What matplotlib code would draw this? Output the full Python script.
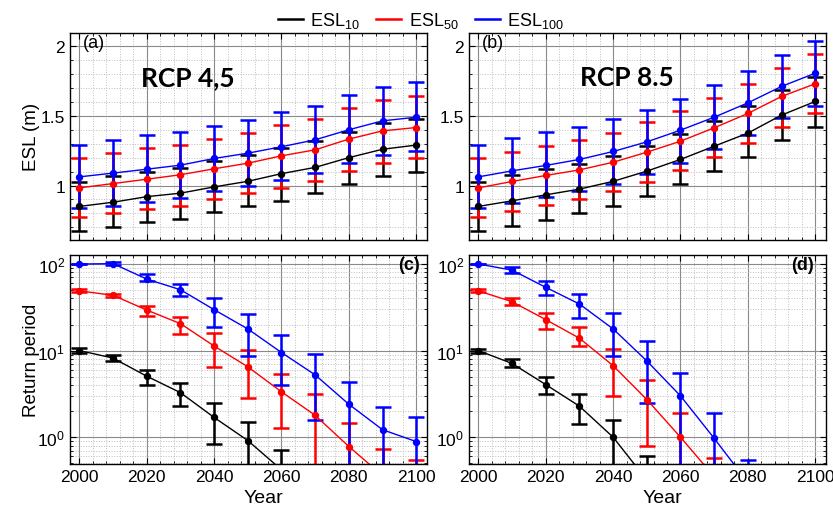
import numpy as np
import matplotlib
matplotlib.use("Agg")
import matplotlib.pyplot as plt
from matplotlib.ticker import MultipleLocator, LogLocator, NullFormatter, FixedLocator

plt.rcParams['font.family'] = ['Liberation Sans', 'DejaVu Sans']
plt.rcParams['mathtext.fontset'] = 'custom'
plt.rcParams['mathtext.rm'] = 'Liberation Sans'
plt.rcParams['mathtext.it'] = 'Liberation Sans'

years = [2000, 2010, 2020, 2030, 2040, 2050, 2060, 2070, 2080, 2090, 2100]

# ESL (m), RCP 4.5: central value, lower and upper bound
esl45_10 = [0.85, 0.88, 0.92, 0.945, 0.99, 1.03, 1.085, 1.13, 1.20, 1.26, 1.29]
esl45_10_lo = [0.677, 0.70, 0.735, 0.76, 0.81, 0.856, 0.89, 0.945, 1.012, 1.07, 1.096]
esl45_10_hi = [1.024, 1.065, 1.096, 1.124, 1.175, 1.218, 1.27, 1.318, 1.385, 1.45, 1.48]
esl45_50 = [0.983, 1.014, 1.045, 1.077, 1.12, 1.16, 1.213, 1.256, 1.333, 1.392, 1.416]
esl45_50_lo = [0.777, 0.80, 0.833, 0.856, 0.90, 0.947, 0.983, 1.033, 1.103, 1.165, 1.196]
esl45_50_hi = [1.20, 1.232, 1.266, 1.29, 1.335, 1.376, 1.433, 1.476, 1.555, 1.617, 1.644]
esl45_100 = [1.062, 1.089, 1.117, 1.146, 1.194, 1.232, 1.278, 1.328, 1.40, 1.464, 1.49]
esl45_100_lo = [0.837, 0.854, 0.883, 0.909, 0.957, 1.0, 1.04, 1.089, 1.158, 1.222, 1.25]
esl45_100_hi = [1.292, 1.328, 1.359, 1.385, 1.428, 1.471, 1.526, 1.572, 1.648, 1.708, 1.742]

# ESL (m), RCP 8.5
esl85_10 = [0.85, 0.89, 0.933, 0.974, 1.03, 1.103, 1.187, 1.282, 1.376, 1.505, 1.603]
esl85_10_lo = [0.677, 0.713, 0.754, 0.80, 0.856, 0.928, 1.012, 1.103, 1.208, 1.33, 1.419]
esl85_10_hi = [1.024, 1.072, 1.117, 1.156, 1.21, 1.287, 1.366, 1.464, 1.569, 1.687, 1.782]
esl85_50 = [0.983, 1.029, 1.072, 1.112, 1.167, 1.239, 1.318, 1.414, 1.517, 1.639, 1.73]
esl85_50_lo = [0.777, 0.816, 0.859, 0.90, 0.957, 1.024, 1.108, 1.203, 1.304, 1.423, 1.519]
esl85_50_hi = [1.20, 1.242, 1.287, 1.325, 1.38, 1.455, 1.533, 1.627, 1.73, 1.845, 1.945]
esl85_100 = [1.062, 1.105, 1.144, 1.187, 1.244, 1.313, 1.397, 1.49, 1.593, 1.711, 1.806]
esl85_100_lo = [0.837, 0.878, 0.916, 0.957, 1.012, 1.084, 1.165, 1.261, 1.361, 1.481, 1.574]
esl85_100_hi = [1.292, 1.342, 1.385, 1.421, 1.474, 1.545, 1.624, 1.718, 1.821, 1.94, 2.036]

# Return period (years), RCP 4.5
rp45_10 = [10.0, 8.2, 5.06, 3.27, 1.69, 0.915, 0.42, 0.19, 0.09, 0.04, 0.02]
rp45_10_lo = [9.4, 7.6, 4.0, 2.32, 0.84, 0.05, 0.01, 0.01, 0.01, 0.01, 0.01]
rp45_10_hi = [10.6, 8.8, 6.04, 4.24, 2.51, 1.49, 0.72, 0.3, 0.15, 0.07, 0.03]
rp45_50 = [49.0, 43.5, 29.4, 20.5, 11.3, 6.5, 3.34, 1.79, 0.78, 0.36, 0.17]
rp45_50_lo = [47.0, 41.5, 25.0, 15.6, 6.5, 2.84, 1.26, 0.01, 0.01, 0.01, 0.01]
rp45_50_hi = [52.0, 44.6, 33.0, 24.5, 15.8, 10.2, 5.43, 3.13, 1.45, 0.74, 0.55]
rp45_100 = [100.0, 101.0, 67.0, 50.5, 29.7, 17.8, 9.5, 5.24, 2.4, 1.22, 0.89]
rp45_100_lo = [99.0, 97.0, 63.0, 42.4, 18.9, 8.6, 4.05, 1.56, 0.01, 0.01, 0.01]
rp45_100_hi = [101.0, 106.0, 77.6, 59.0, 40.0, 26.5, 15.0, 9.07, 4.3, 2.24, 1.7]

# Return period (years), RCP 8.5
rp85_10 = [10.0, 7.1, 4.05, 2.28, 1.0, 0.32, 0.1, 0.04, 0.02, 0.01, 0.005]
rp85_10_lo = [9.5, 6.4, 3.14, 1.41, 0.01, 0.01, 0.01, 0.01, 0.01, 0.01, 0.001]
rp85_10_hi = [10.5, 7.9, 5.0, 3.14, 1.6, 0.61, 0.2, 0.08, 0.04, 0.02, 0.01]
rp85_50 = [49.0, 36.7, 22.8, 13.9, 6.7, 2.72, 1.0, 0.35, 0.12, 0.05, 0.02]
rp85_50_lo = [47.0, 34.0, 17.8, 11.4, 3.0, 0.79, 0.01, 0.01, 0.01, 0.01, 0.01]
rp85_50_hi = [51.0, 40.0, 27.0, 18.6, 10.4, 4.6, 1.89, 0.58, 0.25, 0.1, 0.04]
rp85_100 = [100.0, 85.0, 53.8, 34.5, 17.8, 7.6, 3.0, 0.97, 0.3, 0.1, 0.04]
rp85_100_lo = [99.0, 79.0, 43.8, 23.6, 8.6, 2.47, 0.01, 0.01, 0.01, 0.01, 0.01]
rp85_100_hi = [101.0, 92.0, 63.6, 44.9, 27.2, 12.9, 5.5, 1.89, 0.54, 0.2, 0.08]

colors = ['black', 'red', 'blue']
labels = ['ESL$_{10}$', 'ESL$_{50}$', 'ESL$_{100}$']


def draw_series(ax, series):
    for (y, lo, hi), c, lab in zip(series, colors, labels):
        y = np.array(y)
        yerr = [y - np.array(lo), np.array(hi) - y]
        ax.errorbar(years, y, yerr=yerr, color=c, lw=1.0, marker='o', ms=4.3,
                    elinewidth=1.8, capsize=5.5, capthick=1.8, label=lab)


def style_axes(ax, log=False):
    ax.set_xlim(1997.2, 2103.3)
    ax.xaxis.set_major_locator(MultipleLocator(20))
    ax.xaxis.set_minor_locator(MultipleLocator(4))
    if log:
        ax.set_yscale('log')
        ax.set_ylim(0.49, 127)
        ax.yaxis.set_major_locator(FixedLocator([1, 10, 100]))
        ax.yaxis.set_minor_locator(LogLocator(base=10, subs=np.arange(2, 10)))
        ax.yaxis.set_minor_formatter(NullFormatter())
        ax.set_yticklabels(['$10^0$', '$10^1$', '$10^2$'])
    else:
        ax.set_ylim(0.61, 2.095)
        ax.set_yticks([1, 1.5, 2])
        ax.set_yticklabels(['1', '1.5', '2'])
        ax.yaxis.set_minor_locator(MultipleLocator(0.1))
    ax.grid(True, which='major', color='#8a8a8a', lw=0.8)
    ax.grid(True, which='minor', color='#bdbdbd', lw=0.7, ls=':')
    ax.set_axisbelow(True)
    ax.tick_params(which='both', direction='in', top=True, right=True, labelsize=12.5)
    ax.tick_params(which='major', length=4)
    ax.tick_params(which='minor', length=2)
    for s in ax.spines.values():
        s.set_linewidth(1.0)


fig = plt.figure(figsize=(8.33, 5.06), dpi=100)
ax_a = fig.add_axes([0.084, 0.524, 0.429, 0.409])
ax_b = fig.add_axes([0.563, 0.524, 0.429, 0.409])
ax_c = fig.add_axes([0.084, 0.081, 0.429, 0.413])
ax_d = fig.add_axes([0.563, 0.081, 0.429, 0.413])

draw_series(ax_a, [(esl45_10, esl45_10_lo, esl45_10_hi),
                   (esl45_50, esl45_50_lo, esl45_50_hi),
                   (esl45_100, esl45_100_lo, esl45_100_hi)])
draw_series(ax_b, [(esl85_10, esl85_10_lo, esl85_10_hi),
                   (esl85_50, esl85_50_lo, esl85_50_hi),
                   (esl85_100, esl85_100_lo, esl85_100_hi)])
draw_series(ax_c, [(rp45_10, rp45_10_lo, rp45_10_hi),
                   (rp45_50, rp45_50_lo, rp45_50_hi),
                   (rp45_100, rp45_100_lo, rp45_100_hi)])
draw_series(ax_d, [(rp85_10, rp85_10_lo, rp85_10_hi),
                   (rp85_50, rp85_50_lo, rp85_50_hi),
                   (rp85_100, rp85_100_lo, rp85_100_hi)])

for ax in (ax_a, ax_b):
    style_axes(ax)
    ax.tick_params(labelbottom=False)
for ax in (ax_c, ax_d):
    style_axes(ax, log=True)
    ax.set_xlabel('Year', fontsize=14)
    ax.xaxis.set_label_coords(0.54, -0.118)

ax_a.set_ylabel('ESL (m)', fontsize=13.5)
ax_c.set_ylabel('Return period', fontsize=13.5)
ax_a.yaxis.set_label_coords(-0.085, 0.5)
ax_c.yaxis.set_label_coords(-0.085, 0.5)

# panel tags
ax_a.text(0.035, 0.955, '(a)', transform=ax_a.transAxes, fontsize=13, va='center')
ax_b.text(0.035, 0.955, '(b)', transform=ax_b.transAxes, fontsize=13, va='center')
ax_c.text(0.98, 0.955, '(c)', transform=ax_c.transAxes, fontsize=13, va='center', ha='right', weight='bold')
ax_d.text(0.965, 0.955, '(d)', transform=ax_d.transAxes, fontsize=13, va='center', ha='right', weight='bold')

# scenario titles
ax_a.text(0.33, 0.787, 'RCP 4,5', transform=ax_a.transAxes, fontsize=19, weight='bold',
          ha='center', va='center', family=['Lato', 'DejaVu Sans'])
ax_b.text(0.443, 0.787, 'RCP 8.5', transform=ax_b.transAxes, fontsize=19, weight='bold',
          ha='center', va='center', family=['Lato', 'DejaVu Sans'])

handles = [plt.Line2D([], [], color=c, lw=1.8) for c in colors]
fig.legend(handles, labels, loc='upper center', bbox_to_anchor=(0.505, 1.01), ncol=3,
           frameon=False, fontsize=13, handlelength=1.4, handletextpad=0.4, columnspacing=0.9)

fig.savefig('out.png', dpi=100)
